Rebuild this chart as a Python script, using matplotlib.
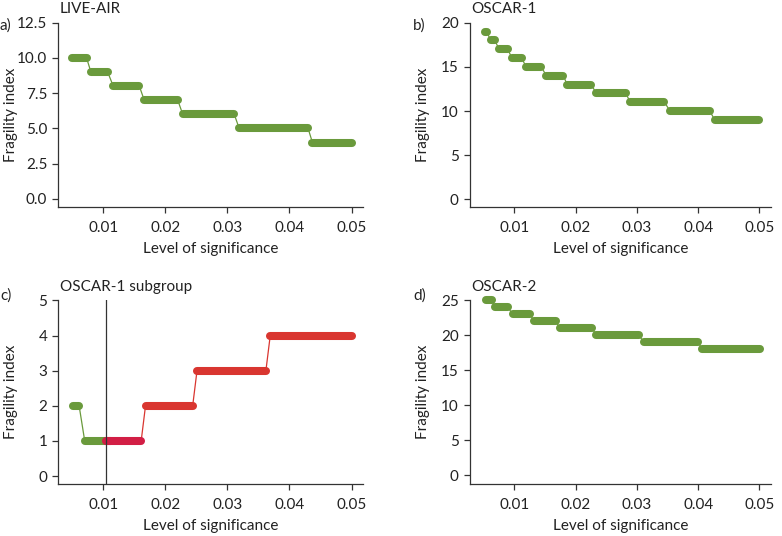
import matplotlib.pyplot as plt

plt.rcParams["font.family"] = ["Lato", "DejaVu Sans"]
plt.rcParams["font.size"] = 11

GREEN = "#6a9a3c"
RED = "#d93630"
CRIMSON = "#d21e45"

# step segments: (fragility index, first alpha, last alpha)
a_values = [10, 9, 8, 7, 6, 5, 4]
a_start = [0.0050, 0.0080, 0.0116, 0.0166, 0.0228, 0.0319, 0.0437]
a_end = [0.0073, 0.0107, 0.0158, 0.0220, 0.0311, 0.0430, 0.0500]

b_values = [19, 18, 17, 16, 15, 14, 13, 12, 11, 10, 9]
b_start = [0.0052, 0.0061, 0.0075, 0.0096, 0.0119, 0.0152, 0.0186, 0.0234, 0.0289, 0.0354, 0.0427]
b_end = [0.0055, 0.0068, 0.0089, 0.0112, 0.0144, 0.0180, 0.0225, 0.0282, 0.0345, 0.0419, 0.0500]

c_values = [2, 1, 1, 2, 3, 4]
c_start = [0.0051, 0.0070, 0.0104, 0.0168, 0.0251, 0.0369]
c_end = [0.0061, 0.0104, 0.0161, 0.0244, 0.0362, 0.0500]
c_colors = [GREEN, GREEN, CRIMSON, RED, RED, RED]
c_link_colors = [GREEN, None, RED, RED, RED]
c_vline = 0.01043

d_values = [25, 24, 23, 22, 21, 20, 19, 18]
d_start = [0.0053, 0.0069, 0.0097, 0.0132, 0.0174, 0.0234, 0.0311, 0.0407]
d_end = [0.0063, 0.0090, 0.0126, 0.0168, 0.0227, 0.0304, 0.0400, 0.0501]

x_ticks = [0.01, 0.02, 0.03, 0.04, 0.05]
x_tick_labels = ["0.01", "0.02", "0.03", "0.04", "0.05"]

panels = [
    # label, title, values, starts, ends, colors, links, yticks, ylim, rect
    ("a)", "LIVE-AIR", a_values, a_start, a_end, None, None,
     [0.0, 2.5, 5.0, 7.5, 10.0, 12.5], ["0.0", "2.5", "5.0", "7.5", "10.0", "12.5"],
     (-0.55, 12.5), [0.0746, 0.6144, 0.390, 0.3433]),
    ("b)", "OSCAR-1", b_values, b_start, b_end, None, None,
     [0, 5, 10, 15, 20], ["0", "5", "10", "15", "20"],
     (-0.83, 20), [0.601, 0.6144, 0.385, 0.3433]),
    ("c)", "OSCAR-1 subgroup", c_values, c_start, c_end, c_colors, c_link_colors,
     [0, 1, 2, 3, 4, 5], ["0", "1", "2", "3", "4", "5"],
     (-0.22, 5), [0.0746, 0.0975, 0.390, 0.342]),
    ("d)", "OSCAR-2", d_values, d_start, d_end, None, None,
     [0, 5, 10, 15, 20, 25], ["0", "5", "10", "15", "20", "25"],
     (-1.18, 25), [0.601, 0.0975, 0.385, 0.342]),
]

fig = plt.figure(figsize=(7.82, 5.36), dpi=100)

for label, title, vals, starts, ends, colors, links, yt, ytl, ylim, rect in panels:
    ax = fig.add_axes(rect)
    n = len(vals)
    if colors is None:
        colors = [GREEN] * n
        links = [GREEN] * (n - 1)
    # thin connectors between steps
    for i in range(n - 1):
        if links[i] is None:
            continue
        ax.plot([ends[i], starts[i + 1]], [vals[i], vals[i + 1]], color=links[i], lw=0.9,
                zorder=2, clip_on=False)
    # thick steps
    for i in range(n):
        ax.plot([starts[i], ends[i]], [vals[i], vals[i]], color=colors[i], lw=5.8,
                solid_capstyle="round", zorder=3, clip_on=False)
        if i > 0 and colors[i] != colors[i - 1] and vals[i] == vals[i - 1]:
            # square off the colour change where the two parts meet
            ax.plot([starts[i], starts[i] + 0.0008], [vals[i], vals[i]], color=colors[i], lw=5.8,
                    solid_capstyle="butt", zorder=4, clip_on=False)
    if label == "c)":
        ax.axvline(c_vline, color="#333333", lw=0.9, zorder=5)

    ax.set_xlim(0.00275, 0.0519)
    ax.set_ylim(*ylim)
    ax.set_xticks(x_ticks)
    ax.set_xticklabels(x_tick_labels)
    ax.set_yticks(yt)
    ax.set_yticklabels(ytl)
    ax.spines["top"].set_visible(False)
    ax.spines["right"].set_visible(False)
    for s in ("left", "bottom"):
        ax.spines[s].set_color("#333333")
        ax.spines[s].set_linewidth(0.9)
    ax.tick_params(length=4, width=0.9, color="#333333", labelcolor="#222222")
    ax.tick_params(axis="x", pad=6)
    ax.tick_params(axis="y", pad=4)
    ax.set_xlabel("Level of significance", color="#222222", labelpad=5.5)
    ax.set_ylabel("Fragility index", color="#222222")
    ax.yaxis.set_label_coords(-0.133, 0.5)

    pos = ax.get_position()
    fig.text(pos.x0 + 0.002, pos.y1 + 0.025, title, ha="left", va="center", color="#222222")
    lx = 0.0 if label in ("a)", "c)") else 0.528
    ly = pos.y1 - 0.005 if label in ("a)", "b)") else pos.y1 + 0.01
    fig.text(lx, ly, label, ha="left", va="center", color="#222222")

fig.savefig("out.png", dpi=100)
